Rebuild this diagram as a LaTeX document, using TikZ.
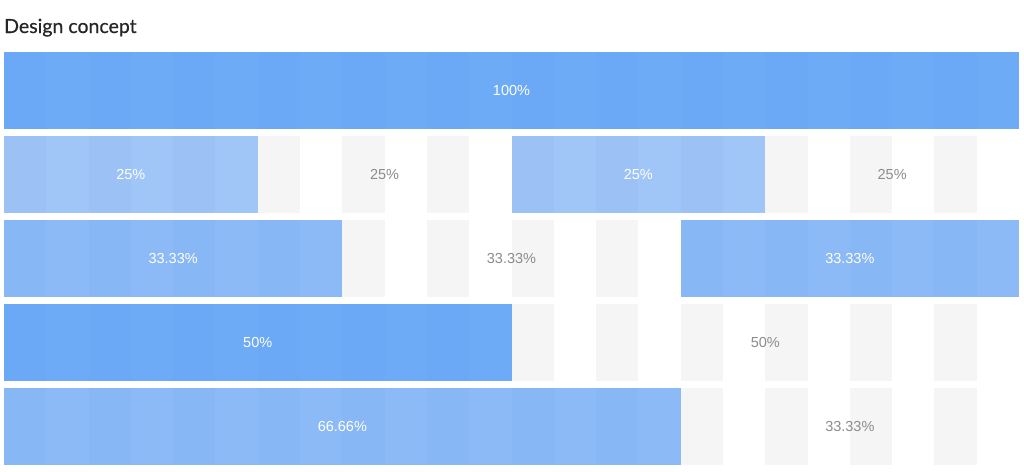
\documentclass[tikz,border=0pt]{standalone}
\usepackage{fontspec}
\setmainfont{Liberation Sans}
\newfontfamily\titlefont[FakeBold=0.6]{Lato}
\definecolor{bAe}{RGB}{107,168,245}
\definecolor{bAo}{RGB}{110,171,246}
\definecolor{bBe}{RGB}{156,194,245}
\definecolor{bBo}{RGB}{160,197,247}
\definecolor{bCe}{RGB}{136,183,245}
\definecolor{bCo}{RGB}{140,186,247}
\definecolor{gre}{RGB}{245,245,245}
\definecolor{gro}{RGB}{255,255,255}
\definecolor{titlec}{RGB}{38,38,38}
\definecolor{graytext}{RGB}{140,140,140}
\tikzset{
  lbl/.style={inner sep=0pt, font=\fontsize{14.5}{16}\selectfont},
  ttl/.style={inner sep=0pt, anchor=base west, text=titlec, font=\titlefont\fontsize{19.5}{22}\selectfont}
}
\newcommand\cw{42.2917}
\newcommand\blk[7]{%
  \foreach \c in {#2,...,#3}{%
    \ifodd\c \def\cc{#4o}\else\def\cc{#4e}\fi
    \fill[\cc] ({4+\c*\cw},{52+84*#1}) rectangle ({4+(\c+1)*\cw},{129+84*#1});
  }%
  \node[lbl,text=#7] (#6) at ({4+(#2+#3+1)*\cw/2},{91+84*#1}) {#5};
}
\begin{document}
\begin{tikzpicture}[x=1pt,y=-1pt]
\useasboundingbox (0,0) rectangle (1024,471);
\node[ttl] (title) at (4,33) {Design concept};
% row 1
\blk{0}{0}{23}{bA}{100\%}{rAa}{white}
% row 2
\blk{1}{0}{5}{bB}{25\%}{rBa}{white}
\blk{1}{6}{11}{gr}{25\%}{rBb}{graytext}
\blk{1}{12}{17}{bB}{25\%}{rBc}{white}
\blk{1}{18}{23}{gr}{25\%}{rBd}{graytext}
% row 3
\blk{2}{0}{7}{bC}{33.33\%}{rCa}{white}
\blk{2}{8}{15}{gr}{33.33\%}{rCb}{graytext}
\blk{2}{16}{23}{bC}{33.33\%}{rCc}{white}
% row 4
\blk{3}{0}{11}{bA}{50\%}{rDa}{white}
\blk{3}{12}{23}{gr}{50\%}{rDb}{graytext}
% row 5
\blk{4}{0}{15}{bC}{66.66\%}{rEa}{white}
\blk{4}{16}{23}{gr}{33.33\%}{rEb}{graytext}
\end{tikzpicture}
\end{document}
